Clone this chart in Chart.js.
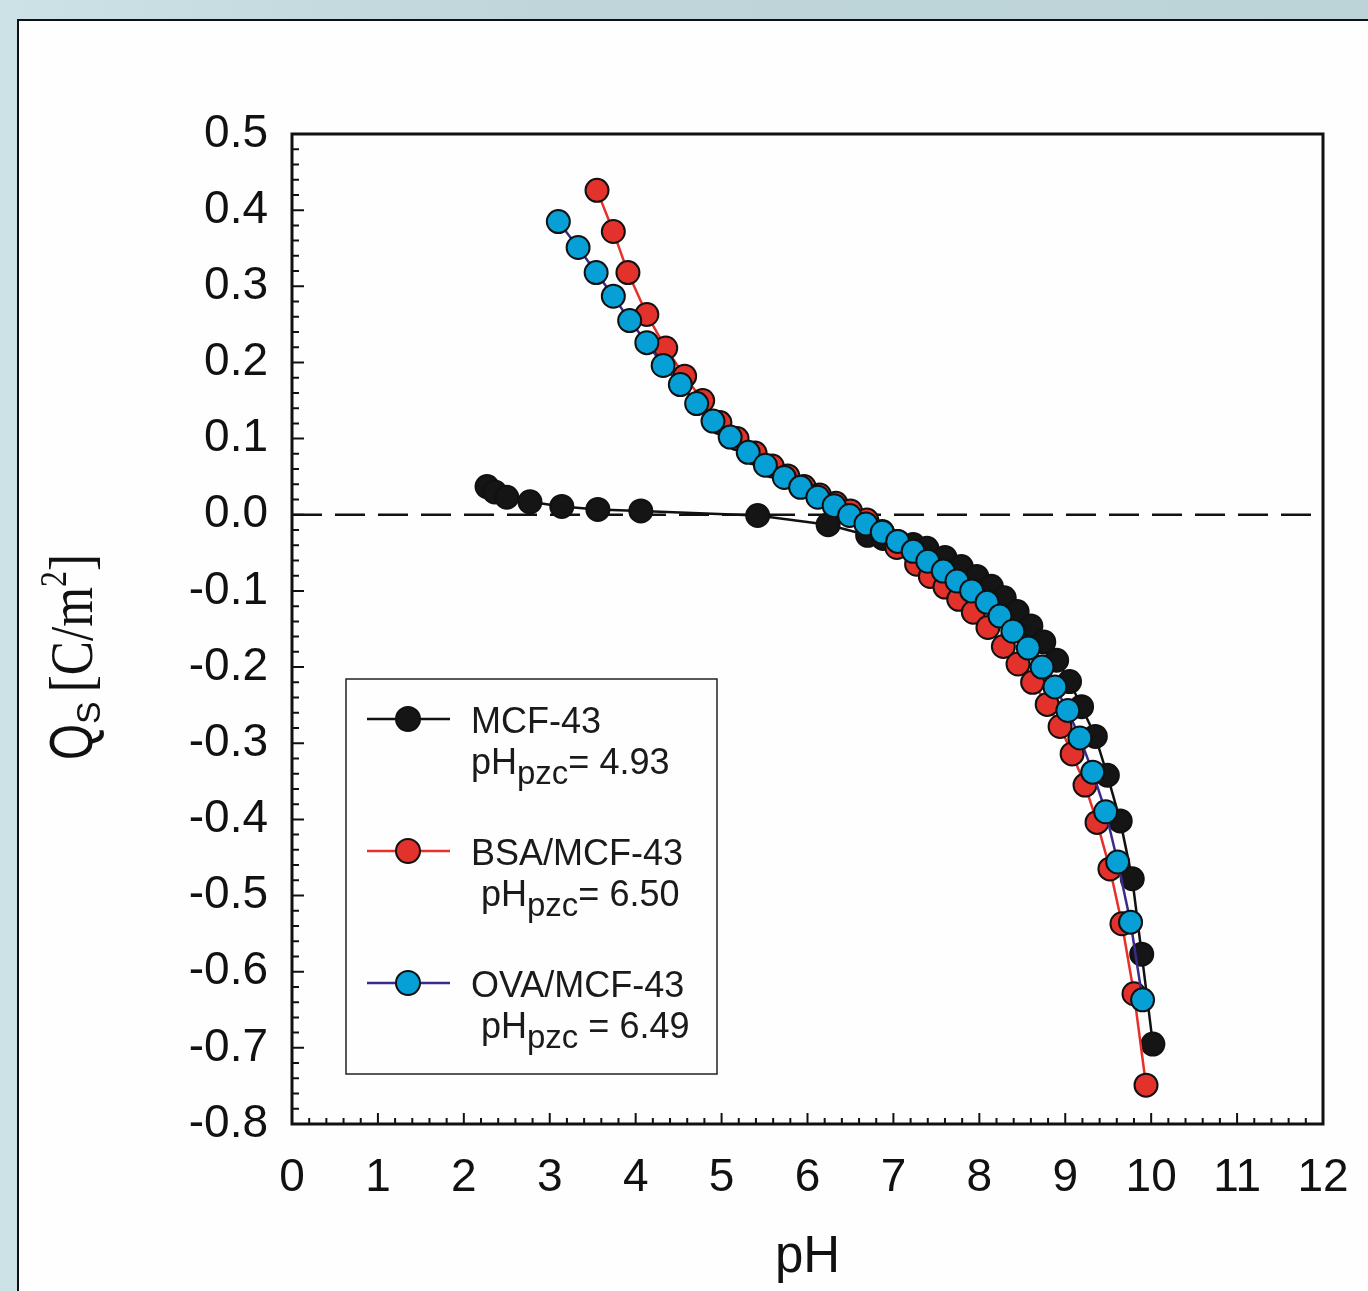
<!DOCTYPE html>
<html>
<head>
<meta charset="utf-8">
<script src="https://cdn.jsdelivr.net/npm/chart.js@4.4.1/dist/chart.umd.min.js"></script>
<style>
  html, body { margin: 0; padding: 0; }
  body {
    width: 1368px; height: 1291px; overflow: hidden; position: relative;
    background: linear-gradient(90deg, #cde2e6 0%, #bfd5da 40%, #bcd3d8 100%);
  }
  #card {
    position: absolute; left: 17px; top: 19px; width: 1400px; height: 1300px;
    background: #fefefe; border-left: 2.5px solid #111; border-top: 2.5px solid #111;
  }
  #canvas { position: absolute; left: 0; top: 0; }
</style>
</head>
<body>
<div id="card"></div>
<canvas id="canvas" width="1368" height="1291"></canvas>
<script>
// data
const phMcf = [2.27, 2.36, 2.50, 2.77, 3.14, 3.56, 4.06, 5.42, 6.24, 6.70, 6.88, 7.05, 7.23, 7.39, 7.60, 7.79, 7.97, 8.14, 8.29, 8.44, 8.60, 8.75, 8.90, 9.05, 9.19, 9.35, 9.49, 9.64, 9.78, 9.89, 10.02];
const qsMcf = [0.037, 0.030, 0.023, 0.017, 0.011, 0.007, 0.005, -0.001, -0.013, -0.027, -0.031, -0.035, -0.039, -0.044, -0.056, -0.068, -0.081, -0.094, -0.109, -0.127, -0.146, -0.167, -0.191, -0.219, -0.252, -0.291, -0.342, -0.402, -0.478, -0.577, -0.695];

const phBsa = [3.55, 3.74, 3.91, 4.13, 4.35, 4.57, 4.78, 4.98, 5.18, 5.39, 5.59, 5.77, 5.96, 6.14, 6.33, 6.50, 6.69, 6.87, 7.04, 7.27, 7.43, 7.60, 7.76, 7.93, 8.10, 8.28, 8.45, 8.62, 8.79, 8.94, 9.08, 9.23, 9.37, 9.52, 9.66, 9.80, 9.94];
const qsBsa = [0.426, 0.372, 0.318, 0.263, 0.219, 0.182, 0.150, 0.121, 0.100, 0.081, 0.064, 0.051, 0.037, 0.026, 0.015, 0.005, -0.007, -0.022, -0.043, -0.065, -0.081, -0.095, -0.111, -0.128, -0.148, -0.173, -0.196, -0.220, -0.249, -0.278, -0.314, -0.355, -0.404, -0.465, -0.537, -0.629, -0.749];

const phOva = [3.10, 3.33, 3.54, 3.74, 3.93, 4.13, 4.32, 4.52, 4.71, 4.90, 5.10, 5.31, 5.51, 5.73, 5.92, 6.12, 6.31, 6.49, 6.68, 6.87, 7.05, 7.23, 7.40, 7.58, 7.74, 7.91, 8.09, 8.24, 8.39, 8.57, 8.73, 8.88, 9.03, 9.17, 9.32, 9.47, 9.61, 9.76, 9.90];
const qsOva = [0.385, 0.351, 0.318, 0.287, 0.255, 0.226, 0.196, 0.171, 0.146, 0.123, 0.102, 0.082, 0.065, 0.049, 0.036, 0.023, 0.012, -0.001, -0.012, -0.023, -0.035, -0.048, -0.061, -0.074, -0.087, -0.100, -0.115, -0.133, -0.153, -0.175, -0.200, -0.226, -0.257, -0.293, -0.338, -0.390, -0.456, -0.535, -0.637];

const seriesNames = ['MCF-43', 'BSA/MCF-43', 'OVA/MCF-43'];
const pzcLabels = ['= 4.93', '= 6.50', ' = 6.49'];
const xTicks = [0, 1, 2, 3, 4, 5, 6, 7, 8, 9, 10, 11, 12];
const yTicks = [0.5, 0.4, 0.3, 0.2, 0.1, 0.0, -0.1, -0.2, -0.3, -0.4, -0.5, -0.6, -0.7, -0.8];

const SANS = '"Liberation Sans", Arial, sans-serif';
const SERIF = '"Liberation Serif", "Times New Roman", serif';

const toPoints = (xs, ys) => xs.map((x, i) => ({x: x, y: ys[i]}));

const canvas = document.getElementById('canvas');
const ctx = canvas.getContext('2d');

// inward ticks, frame, zero line, legend, axis titles
const decor = {
  id: 'decor',
  beforeDatasetsDraw(chart) {
    const c = chart.ctx, a = chart.chartArea;
    const y0 = chart.scales.y.getPixelForValue(0);
    c.save();
    c.strokeStyle = '#111';
    c.lineWidth = 2.5;
    c.setLineDash([30, 13]);
    c.beginPath();
    c.moveTo(a.left, y0);
    c.lineTo(a.right, y0);
    c.stroke();
    c.restore();
  },
  afterDraw(chart) {
    const c = chart.ctx, a = chart.chartArea;
    const xs = chart.scales.x, ys = chart.scales.y;
    c.save();
    c.strokeStyle = '#111';
    c.lineWidth = 2;
    c.beginPath();
    for (let i = 0; i <= 60; i++) {
      const px = xs.getPixelForValue(i * 0.2);
      const len = i % 5 === 0 ? 11 : 6;
      c.moveTo(px, a.bottom);
      c.lineTo(px, a.bottom - len);
    }
    for (let i = 0; i <= 65; i++) {
      const py = ys.getPixelForValue(-0.8 + i * 0.02);
      const len = i % 5 === 0 ? 12 : 7;
      c.moveTo(a.left, py);
      c.lineTo(a.left + len, py);
    }
    c.stroke();
    c.lineWidth = 3;
    c.strokeRect(a.left, a.top, a.right - a.left, a.bottom - a.top);

    // x title
    c.fillStyle = '#111';
    c.font = '51px ' + SANS;
    c.textAlign = 'center';
    c.textBaseline = 'alphabetic';
    c.fillText('pH', (a.left + a.right) / 2, 1272);

    // y title, rotated, condensed like the original
    c.save();
    c.translate(92, 760);
    c.rotate(-Math.PI / 2);
    c.textAlign = 'left';
    let x = 0;
    c.save(); c.scale(0.76, 1);
    c.font = '61px ' + SANS;
    c.fillText('Q', 0, 0); x += c.measureText('Q').width * 0.76;
    c.restore();
    c.font = '34px ' + SANS;
    c.fillText('S', x, 8); x += c.measureText('S').width + 9;
    c.save(); c.translate(x, 0); c.scale(0.84, 1);
    c.font = '61px ' + SERIF;
    let sx = 0;
    c.fillText('[C/m', sx, 0); sx += c.measureText('[C/m').width;
    c.font = '38px ' + SERIF;
    c.fillText('2', sx, -26); sx += c.measureText('2').width;
    c.font = '61px ' + SERIF;
    c.fillText(']', sx, 0);
    c.restore();
    c.restore();

    // legend
    c.fillStyle = '#fefefe';
    c.fillRect(346, 679, 371, 395);
    c.lineWidth = 1.5;
    c.strokeStyle = '#222';
    c.strokeRect(346, 679, 371, 395);
    chart.data.datasets.forEach((ds, i) => {
      const ly = 719 + i * 132;
      c.strokeStyle = ds.borderColor;
      c.lineWidth = 2.5;
      c.beginPath();
      c.moveTo(367, ly);
      c.lineTo(450, ly);
      c.stroke();
      c.beginPath();
      c.arc(408, ly, 12, 0, Math.PI * 2);
      c.fillStyle = ds.pointBackgroundColor;
      c.fill();
      c.lineWidth = 2;
      c.strokeStyle = '#111';
      c.stroke();
      c.fillStyle = '#1a1a1a';
      c.textAlign = 'left';
      c.font = '36px ' + SANS;
      c.fillText(seriesNames[i], 471, ly + 14);
      let tx = i === 0 ? 471 : 481;
      const by = ly + 55;
      c.fillText('pH', tx, by); tx += c.measureText('pH').width;
      c.font = '33px ' + SANS;
      c.fillText('pzc', tx, by + 10); tx += c.measureText('pzc').width;
      c.font = '36px ' + SANS;
      c.fillText(pzcLabels[i], tx, by);
    });
    c.restore();
  }
};

const lineDs = (label, xs, ys, lineColor, fill, order) => ({
  label: label,
  data: toPoints(xs, ys),
  showLine: true,
  borderColor: lineColor,
  borderWidth: 2.5,
  pointRadius: 11.5,
  pointBorderWidth: 2,
  pointBackgroundColor: fill,
  pointBorderColor: '#111',
  order: order
});

const chart = new Chart(ctx, {
  type: 'scatter',
  data: {
    datasets: [
      lineDs(seriesNames[0], phMcf, qsMcf, '#111111', '#151515', 3),
      lineDs(seriesNames[1], phBsa, qsBsa, '#e8302a', '#e3322b', 2),
      lineDs(seriesNames[2], phOva, qsOva, '#3a2a8c', '#06a0d6', 1)
    ]
  },
  options: {
    responsive: false,
    animation: false,
    layout: { padding: { left: 0, top: 134, right: 45, bottom: 0 } },
    plugins: { legend: { display: false }, tooltip: { enabled: false } },
    scales: {
      x: {
        type: 'linear', min: 0, max: 12,
        grid: { display: false, drawTicks: false },
        border: { display: false },
        afterFit: s => { s.height = 1291 - 1124; s.paddingLeft = 0; s.paddingRight = 0; },
        afterBuildTicks: s => { s.ticks = xTicks.map(v => ({value: v})); },
        ticks: { padding: 27, color: '#111', font: { family: SANS, size: 46 }, callback: v => String(v) }
      },
      y: {
        type: 'linear', min: -0.8, max: 0.5,
        grid: { display: false, drawTicks: false },
        border: { display: false },
        afterFit: s => { s.width = 292; s.paddingTop = 0; s.paddingBottom = 0; },
        afterBuildTicks: s => { s.ticks = yTicks.map(v => ({value: v})); },
        ticks: { padding: 24, color: '#111', font: { family: SANS, size: 46 }, callback: v => v.toFixed(1) }
      }
    }
  },
  plugins: [decor]
});
</script>
</body>
</html>
